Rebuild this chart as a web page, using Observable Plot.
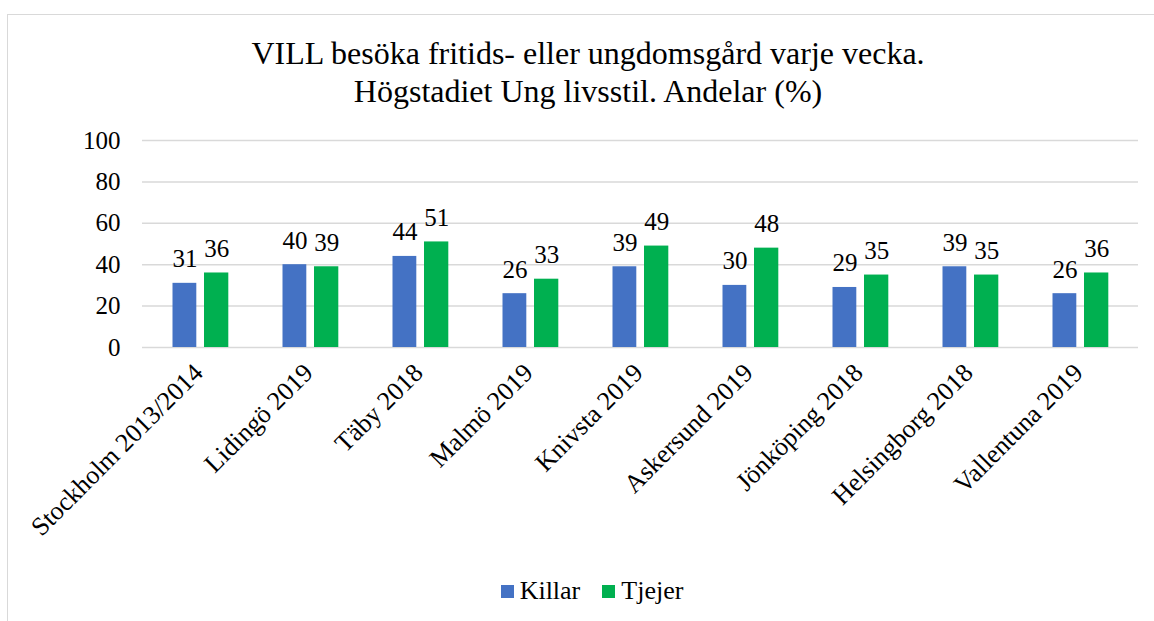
<!DOCTYPE html>
<html>
<head>
<meta charset="utf-8">
<script src="https://cdn.jsdelivr.net/npm/d3@7"></script>
<script src="https://cdn.jsdelivr.net/npm/@observablehq/plot@0.6"></script>
<style>
  html, body { margin: 0; padding: 0; background: #fff; overflow: hidden; width: 1154px; height: 621px; }
  #wrap { position: relative; width: 1154px; height: 621px; font-family: "Liberation Serif", "Times New Roman", serif; color: #000; }
  #frame { position: absolute; left: 7px; top: 14px; width: 1200px; height: 700px; border: 1.5px solid #d9d9d9; box-sizing: border-box; }
  #title { position: absolute; left: 188px; top: 34px; width: 800px; text-align: center; font-size: 32px; line-height: 38px; }
  #chart { position: absolute; left: 0; top: 115px; }
  #chart svg text { font-family: "Liberation Serif", "Times New Roman", serif; }
  #legend { position: absolute; left: 0; top: 576px; width: 1184px; display: flex; justify-content: center; align-items: center; font-size: 26px; }
  .item { display: flex; align-items: center; margin: 0 11px; }
  .sw { width: 13px; height: 13px; margin-right: 6px; }
</style>
</head>
<body>
<div id="wrap">
  <div id="frame"></div>
  <div id="title">VILL besöka fritids- eller ungdomsgård varje vecka.<br>Högstadiet Ung livsstil. Andelar (%)</div>
  <div id="chart"></div>
  <div id="legend"></div>
</div>
<script>
const categories = ["Stockholm 2013/2014", "Lidingö 2019", "Täby 2018", "Malmö 2019", "Knivsta 2019", "Askersund 2019", "Jönköping 2018", "Helsingborg 2018", "Vallentuna 2019"];
const killar = [31, 40, 44, 26, 39, 30, 29, 39, 26];
const tjejer = [36, 39, 51, 33, 49, 48, 35, 35, 36];
const seriesNames = ["Killar", "Tjejer"];
const seriesColors = ["#4472C4", "#00B050"];
const yTicks = [0, 20, 40, 60, 80, 100];

const kRows = categories.map((c, i) => ({cat: c, value: killar[i]}));
const tRows = categories.map((c, i) => ({cat: c, value: tjejer[i]}));

const font = "Liberation Serif";

const chart = Plot.plot({
  width: 1154,
  height: 445,
  marginTop: 25,
  marginLeft: 142,
  marginRight: 16,
  marginBottom: 213,
  style: {fontFamily: font, fontSize: "25px", color: "#000", background: "transparent"},
  x: {domain: categories, padding: 0, label: null},
  y: {domain: [0, 100], label: null},
  marks: [
    Plot.ruleY(yTicks, {stroke: "#d9d9d9", strokeWidth: 1.5}),
    Plot.barY(kRows, {x: "cat", y: "value", fill: seriesColors[0], insetLeft: 27.5, insetRight: 58.7}),
    Plot.barY(tRows, {x: "cat", y: "value", fill: seriesColors[1], insetLeft: 59, insetRight: 26.7}),
    Plot.text(kRows, {x: "cat", y: "value", text: "value", dx: -15.6, dy: -16, lineAnchor: "bottom", fontSize: 25, fontFamily: font, fill: "#000"}),
    Plot.text(tRows, {x: "cat", y: "value", text: "value", dx: 16.2, dy: -16, lineAnchor: "bottom", fontSize: 25, fontFamily: font, fill: "#000"}),
    Plot.axisY({ticks: yTicks, tickSize: 0, tickPadding: 22, fontSize: 25, fontFamily: font, label: null, fill: "#000"}),
    Plot.axisX({tickSize: 0, tickRotate: -45, tickPadding: 21, dx: -2, fontSize: 26, fontFamily: font, label: null, fill: "#000"})
  ]
});
document.getElementById("chart").appendChild(chart);

const legend = document.getElementById("legend");
seriesNames.forEach((n, i) => {
  const it = document.createElement("div");
  it.className = "item";
  const sw = document.createElement("div");
  sw.className = "sw";
  sw.style.background = seriesColors[i];
  const tx = document.createElement("span");
  tx.textContent = n;
  it.appendChild(sw);
  it.appendChild(tx);
  legend.appendChild(it);
});
</script>
</body>
</html>
